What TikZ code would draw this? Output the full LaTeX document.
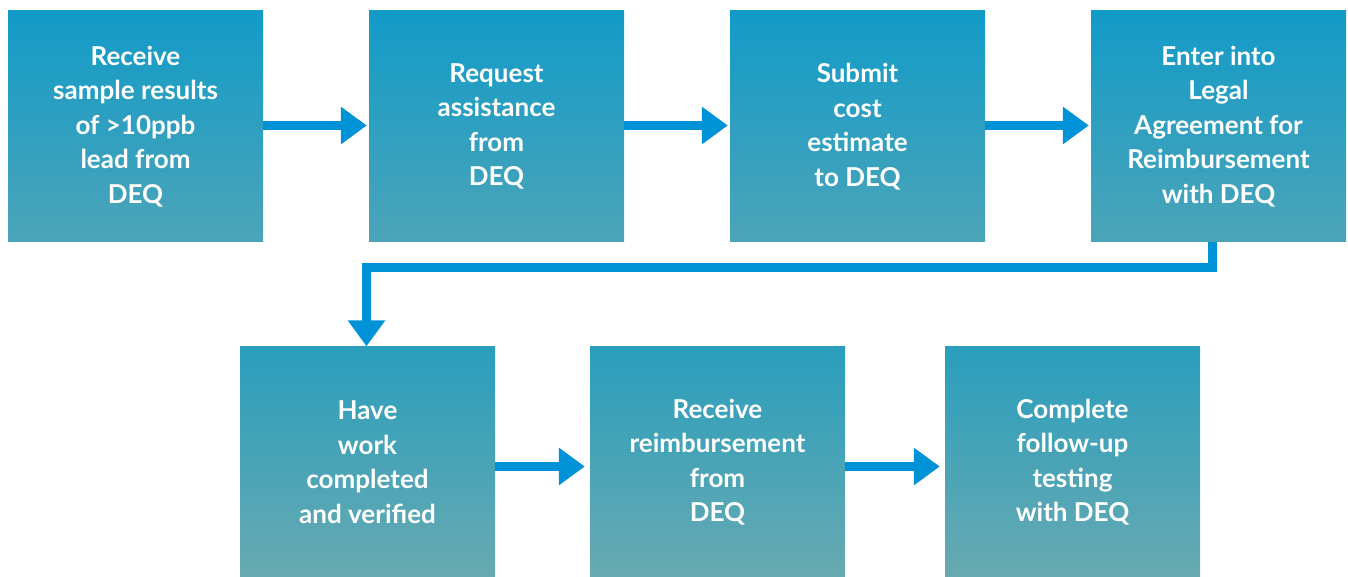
\documentclass[tikz,border=0pt]{standalone}
\usepackage{fontspec}
\setmainfont{Lato}
\usepackage{tikz}
\usetikzlibrary{calc,arrows.meta}

\definecolor{rowtoptop}{RGB}{18,155,200}
\definecolor{rowtopbot}{RGB}{76,164,184}
\definecolor{rowbottop}{RGB}{42,158,188}
\definecolor{rowbotbot}{RGB}{104,170,177}
\definecolor{flowblue}{RGB}{0,146,214}

\tikzset{
    stepbox/.style={rectangle, minimum width=255pt, minimum height=231pt, inner sep=0pt,
        text=white, align=center, font=\fontsize{26}{34.5}\selectfont\bfseries},
    toprow/.style={stepbox, top color=rowtoptop, bottom color=rowtopbot},
    botrow/.style={stepbox, top color=rowbottop, bottom color=rowbotbot},
    flow/.style={draw=flowblue, line width=9pt, -{Triangle[length=26pt,width=36pt]}}
}

\begin{document}
\begin{tikzpicture}[x=1pt, y=-1pt]
    \useasboundingbox (0,0) rectangle (1348,577);

    \node[toprow] (s1) at (135.5,126.5) {Receive\\sample results\\of >10ppb\\lead from\\DEQ};
    
    \node[toprow] (s2) at ($(s1) + (361, 0)$) {Request\\assistance\\from\\DEQ};
    
    \node[toprow] (s3) at ($(s2) + (361, 0)$) {Submit\\cost\\estimate\\to DEQ};
    
    \node[toprow] (s4) at ($(s3) + (361, 0)$) {Enter into\\Legal\\Agreement for\\Reimbursement\\with DEQ};
    
    \node[botrow] (s5) at (367.5,462) {Have\\work\\completed\\and verified};
    
    \node[botrow] (s6) at ($(s5) + (350, 0)$) {Receive\\reimbursement\\from\\DEQ};
    
    \node[botrow] (s7) at ($(s6) + (355, 0)$) {Complete\\follow-up\\testing\\with DEQ};
    
    \draw[flow, shorten >=2pt] ([yshift=1pt]s1.east) -- ([yshift=1pt]s2.west);
    \draw[flow, shorten >=2pt] ([yshift=1pt]s2.east) -- ([yshift=1pt]s3.west);
    \draw[flow, shorten >=2pt] ([yshift=1pt]s3.east) -- ([yshift=1pt]s4.west);
    \draw[flow] ([xshift=-6pt]s4.south) -- ++(0,25) -| ([xshift=-1pt]s5.north);
    \draw[flow, shorten >=5pt] ([yshift=-4.5pt]s5.east) -- ([yshift=-4.5pt]s6.west);
    \draw[flow, shorten >=5pt] ([yshift=-4.5pt]s6.east) -- ([yshift=-4.5pt]s7.west);
    
\end{tikzpicture}
\end{document}
